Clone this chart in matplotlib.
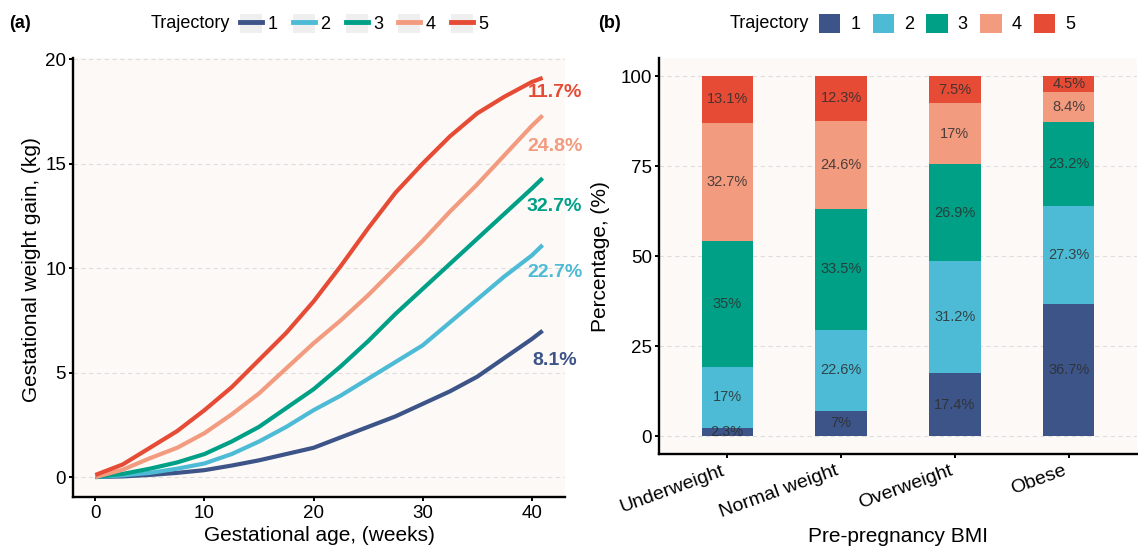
import matplotlib.pyplot as plt
from matplotlib.lines import Line2D
from matplotlib.patches import Patch
from matplotlib.legend_handler import HandlerTuple

plt.rcParams['font.family'] = ['Liberation Sans', 'DejaVu Sans']

# (a) gestational weight gain trajectories
weeks = [0, 2.5, 5, 7.5, 10, 12.5, 15, 17.5, 20, 22.5, 25, 27.5, 30, 32.5, 35, 37.5, 40, 41]
traj1 = [0, 0.03, 0.1, 0.2, 0.33, 0.55, 0.8, 1.1, 1.4, 1.9, 2.4, 2.9, 3.5, 4.1, 4.8, 5.7, 6.6, 7.0]
traj2 = [0, 0.08, 0.2, 0.4, 0.65, 1.1, 1.7, 2.4, 3.2, 3.9, 4.7, 5.5, 6.3, 7.4, 8.5, 9.6, 10.6, 11.1]
traj3 = [0, 0.15, 0.4, 0.7, 1.1, 1.7, 2.4, 3.3, 4.2, 5.3, 6.5, 7.8, 9.0, 10.2, 11.4, 12.6, 13.8, 14.3]
traj4 = [0, 0.35, 0.9, 1.4, 2.1, 3.0, 4.0, 5.2, 6.4, 7.5, 8.7, 10.0, 11.3, 12.7, 14.0, 15.4, 16.8, 17.3]
traj5 = [0.1, 0.6, 1.4, 2.2, 3.2, 4.3, 5.6, 6.9, 8.4, 10.1, 11.9, 13.6, 15.0, 16.3, 17.4, 18.2, 18.9, 19.1]
share = [8.1, 22.7, 32.7, 24.8, 11.7]

# (b) trajectory shares by pre-pregnancy BMI (%)
bmi_groups = ['Underweight', 'Normal weight', 'Overweight', 'Obese']
pct1 = [2.3, 7, 17.4, 36.7]
pct2 = [17, 22.6, 31.2, 27.3]
pct3 = [35, 33.5, 26.9, 23.2]
pct4 = [32.7, 24.6, 17, 8.4]
pct5 = [13.1, 12.3, 7.5, 4.5]

traj_names = ['1', '2', '3', '4', '5']
colors = ['#3C5488', '#4DBBD5', '#00A087', '#F39B7F', '#E64B35']
label_dy = [-1.4, -1.3, -1.35, -1.5, -0.7]

panel_bg = '#fcf9f7'
W, H = 1138, 550

fig = plt.figure(figsize=(W / 100, H / 100), dpi=100)
ax1 = fig.add_axes([73 / W, 53 / H, 492 / W, 439 / H])
ax2 = fig.add_axes([659 / W, 96 / H, 478 / W, 395.7 / H])


def style_axes(ax):
    ax.set_facecolor(panel_bg)
    for s in ['top', 'right']:
        ax.spines[s].set_visible(False)
    for s in ['left', 'bottom']:
        ax.spines[s].set_linewidth(1.7)
        ax.spines[s].set_color('black')
    ax.yaxis.grid(True, linestyle=(0, (4, 3)), color='#dedede', linewidth=0.8)
    ax.set_axisbelow(True)
    ax.tick_params(length=3, width=1.4, labelsize=13.5, colors='black')


# ---- panel (a)
style_axes(ax1)
trajs = [traj1, traj2, traj3, traj4, traj5]
for y, c, sh, dy in zip(trajs, colors, share, label_dy):
    ax1.plot(weeks, y, color=c, lw=3, solid_capstyle='butt', solid_joinstyle='round')
    ax1.text(42.1, y[-1] + dy, f'{sh}%', color=c, fontsize=14, fontweight='bold',
             ha='center', va='center')
ax1.set_xlim(-2.05, 43.05)
ax1.set_ylim(-0.955, 20.05)
ax1.set_xticks([0, 10, 20, 30, 40])
ax1.set_yticks([0, 5, 10, 15, 20])
ax1.tick_params(axis='x', pad=3)
ax1.tick_params(axis='y', pad=2)
ax1.set_xlabel('Gestational age, (weeks)', fontsize=15)
ax1.set_ylabel('Gestational weight gain, (kg)', fontsize=15)
ax1.xaxis.label.set_va('center')
ax1.yaxis.label.set_va('center')
ax1.xaxis.set_label_coords(0.5, -0.087)
ax1.yaxis.set_label_coords(-0.084, 0.517)

# ---- panel (b)
style_axes(ax2)
x = [1, 2, 3, 4]
bottom = [0, 0, 0, 0]
for vals, c in zip([pct1, pct2, pct3, pct4, pct5], colors):
    ax2.bar(x, vals, width=0.45, bottom=bottom, color=c, edgecolor='none', zorder=2)
    for xi, b, v in zip(x, bottom, vals):
        ax2.text(xi, b + v / 2, f'{v:g}%', ha='center', va='center', fontsize=10.5,
                 color='#2e2e2e', alpha=0.85, zorder=3)
    bottom = [b + v for b, v in zip(bottom, vals)]
ax2.set_xlim(0.4, 4.6)
ax2.set_ylim(-5, 105)
ax2.set_xticks(x)
ax2.set_xticklabels(bmi_groups, rotation=20, ha='right', fontsize=14)
ax2.set_yticks([0, 25, 50, 75, 100])
ax2.tick_params(axis='x', pad=3)
ax2.tick_params(axis='y', pad=2)
ax2.set_xlabel('Pre-pregnancy BMI', fontsize=15)
ax2.set_ylabel('Percentage, (%)', fontsize=15)
ax2.xaxis.label.set_va('center')
ax2.yaxis.label.set_va('center')
ax2.xaxis.set_label_coords(0.5, (454 - 537) / 395.7)
ax2.yaxis.set_label_coords((601 - 659) / 478, 0.5)

# ---- legends
line_handles = [(Patch(facecolor='#efefef', edgecolor='none'),
                 Line2D([], [], color=c, lw=3.5)) for c in colors]
fig.legend(line_handles, traj_names, handler_map={tuple: HandlerTuple(ndivide=1)},
           loc='center left', bbox_to_anchor=(240 / W, 1 - 23.5 / H), ncol=5,
           frameon=False, fontsize=13, borderpad=0, borderaxespad=0,
           handlelength=1.22, handleheight=1.26, handletextpad=0.3, columnspacing=0.85)
fig.text(230 / W, 1 - 23.5 / H, 'Trajectory', ha='right', va='center', fontsize=13)

box_handles = [Patch(facecolor=c, edgecolor='none') for c in colors]
fig.legend(box_handles, traj_names, loc='center left', bbox_to_anchor=(819 / W, 1 - 23.5 / H),
           ncol=5, frameon=False, fontsize=13, borderpad=0, borderaxespad=0,
           handlelength=1.19, handleheight=1.22, handletextpad=0.55, columnspacing=0.68)
fig.text(809 / W, 1 - 23.5 / H, 'Trajectory', ha='right', va='center', fontsize=13)

fig.text(9 / W, 1 - 23 / H, '(a)', fontsize=13, fontweight='bold', ha='left', va='center')
fig.text(598 / W, 1 - 23 / H, '(b)', fontsize=13, fontweight='bold', ha='left', va='center')

fig.savefig('out.png', dpi=100)
